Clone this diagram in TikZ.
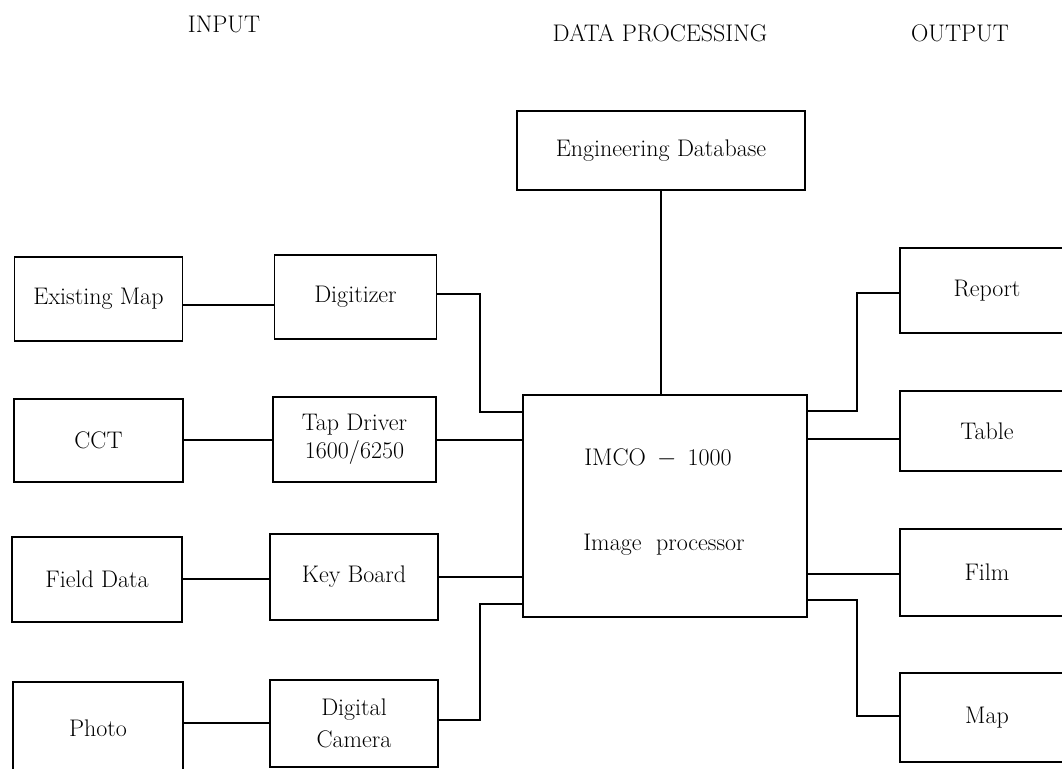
\documentclass[tikz,border=0pt]{standalone}
\usepackage{fontspec}
\begin{document}
\begin{tikzpicture}[x=1pt,y=-1pt,
  box/.style={draw, line width=1.4pt, inner sep=0pt, align=center,
    font=\fontsize{24}{28}\selectfont},
  lbl/.style={inner sep=0pt, font=\fontsize{24}{28}\selectfont},
  head/.style={inner sep=0pt, font=\fontsize{24}{28}\selectfont},
  conn/.style={line width=1.4pt}]
\useasboundingbox (0,0) rectangle (1062,768);

% headers
\node[head] (hin) at (224,24) {INPUT};
\node[head] (hdp) at (660,33) {DATA PROCESSING};
\node[head] (hout) at (960,33) {OUTPUT};

% input column
\node[box, minimum width=168pt, minimum height=84pt] (em) at (98.5,299) {Existing Map};
\node[box, minimum width=169pt, minimum height=83pt] (cct) at (98.5,440.5) {CCT};
\node[box, minimum width=170pt, minimum height=85pt] (fd) at (97,579.5) {Field Data};
\node[box, minimum width=170pt, minimum height=93pt] (ph) at (98,728.5) {Photo};

% devices
\node[box, minimum width=162pt, minimum height=84pt] (dig) at (355.5,297) {Digitizer};
\node[box, minimum width=163pt, minimum height=85pt] (tap) at (354.5,439.5) {Tap Driver\\1600/6250};
\node[box, minimum width=168pt, minimum height=86pt] (kb) at (354,577) {Key Board};
\node[box, minimum width=168pt, minimum height=87pt] (cam) at (354,723.5) {Digital\\[4pt]Camera};

% processing
\node[box, minimum width=288pt, minimum height=79pt] (edb) at (661,150.5) {Engineering Database};
\node[box, minimum width=284pt, minimum height=222pt] (imco) at (665,506) {};
\node[lbl] (t1) at (658,458) {IMCO\, $-$\, 1000};
\node[lbl] (t2) at (664,545) {Image\ \ processor};

% outputs
\node[box, minimum width=174pt, minimum height=85pt] (rep) at (987,290.5) {Report};
\node[box, minimum width=174pt, minimum height=80pt] (tab) at (987,431) {Table};
\node[box, minimum width=174pt, minimum height=87pt] (film) at (987,572.5) {Film};
\node[box, minimum width=174pt, minimum height=89pt] (map) at (987,717.5) {Map};

% routing points
\coordinate (d1) at (480,294);
\coordinate (d2) at (480,412);
\coordinate (c1) at (480,720);
\coordinate (c2) at (480,604);
\coordinate (r1) at (857,411);
\coordinate (r2) at (857,293);
\coordinate (m1) at (857,600);
\coordinate (m2) at (857,716);

% connectors
\draw[conn] (em.east |- 0,305) -- (dig.west |- 0,305);
\draw[conn] (dig.east |- d1) -- (d1) -- (d2) -- (imco.west |- d2);
\draw[conn] (cct.east |- 0,440) -- (tap.west |- 0,440);
\draw[conn] (tap.east |- 0,440) -- (imco.west |- 0,440);
\draw[conn] (fd.east |- 0,579) -- (kb.west |- 0,579);
\draw[conn] (kb.east |- 0,577) -- (imco.west |- 0,577);
\draw[conn] (ph.east |- 0,723) -- (cam.west |- 0,723);
\draw[conn] (cam.east |- c1) -- (c1) -- (c2) -- (imco.west |- c2);
\draw[conn] (edb.south) -- (imco.north -| edb.south);
\draw[conn] (imco.east |- r1) -- (r1) -- (r2) -- (rep.west |- r2);
\draw[conn] (imco.east |- 0,439) -- (tab.west |- 0,439);
\draw[conn] (imco.east |- 0,574) -- (film.west |- 0,574);
\draw[conn] (imco.east |- m1) -- (m1) -- (m2) -- (map.west |- m2);
\end{tikzpicture}
\end{document}
